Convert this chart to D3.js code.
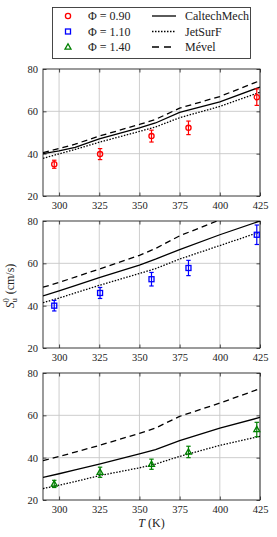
<!DOCTYPE html>
<html><head><meta charset="utf-8">
<script src="https://cdn.jsdelivr.net/npm/d3@7"></script>
<style>body{margin:0;background:#fff}svg{display:block}text{font-family:"Liberation Serif","DejaVu Serif",serif;fill:#222}</style>
</head><body><svg id="c" width="277" height="537"></svg>
<script>
const xTicks = [300, 325, 350, 375, 400, 425];
const yTicks = [20, 40, 60, 80];
const modelT = [290, 300, 310, 325, 350, 360, 375, 400, 425];
const expT = [297, 325.5, 357.5, 380.5, 423];
const phiLabels = ["Φ = 0.90", "Φ = 1.10", "Φ = 1.40"];
const mechNames = ["CaltechMech", "JetSurF", "Mével"];

const caltech09 = [40.0, 41.3, 43.0, 47.0, 52.2, 54.5, 59.5, 64.5, 71.5];
const jetsurf09 = [37.8, 39.9, 42.0, 45.4, 50.5, 52.6, 57.0, 62.3, 69.0];
const mevel09   = [40.5, 42.4, 44.5, 48.3, 53.8, 56.2, 61.5, 67.0, 74.5];
const exp09 = [35.0, 39.8, 48.3, 52.2, 66.7];
const err09 = [1.9, 2.6, 2.8, 3.2, 3.9];

const caltech11 = [44.6, 47.0, 49.5, 53.3, 59.2, 62.0, 66.5, 73.5, 80.0];
const jetsurf11 = [41.4, 43.6, 46.0, 49.6, 55.2, 57.5, 62.0, 68.4, 74.8];
const mevel11   = [48.7, 51.0, 53.5, 57.3, 63.8, 67.0, 73.0, 80.5, 88.0];
const exp11 = [40.0, 46.0, 52.5, 57.8, 73.5];
const err11 = [2.5, 2.6, 3.2, 3.6, 4.6];

const caltech14 = [30.7, 32.4, 34.2, 37.0, 41.8, 43.8, 48.0, 54.0, 59.0];
const jetsurf14 = [25.4, 27.0, 28.7, 31.5, 35.2, 37.0, 40.6, 45.8, 50.1];
const mevel14   = [38.6, 40.6, 42.6, 45.8, 51.5, 54.0, 59.5, 65.8, 72.6];
const exp14 = [27.6, 33.1, 36.9, 42.7, 53.3];
const err14 = [1.7, 2.4, 2.4, 2.7, 3.4];

const colors = ["#ff0000", "#0000ff", "#008000"];
const dashes = [null, "1.5,1.5", "6,4"];

const panels = [
  {top: 69, models: [caltech09, jetsurf09, mevel09], exp: exp09, err: err09, color: colors[0], marker: "circle"},
  {top: 221, models: [caltech11, jetsurf11, mevel11], exp: exp11, err: err11, color: colors[1], marker: "square"},
  {top: 373, models: [caltech14, jetsurf14, mevel14], exp: exp14, err: err14, color: colors[2], marker: "triangle"}
];

const svg = d3.select("#c");
const left = 43, right = 260, ph = 127;
const x = d3.scaleLinear().domain([290, 425]).range([left, right]);

function drawMarker(g, type, cx, cy, color) {
  if (type === "circle") g.append("circle").attr("cx", cx).attr("cy", cy).attr("r", 2.6)
      .attr("fill", "none").attr("stroke", color).attr("stroke-width", 1.3);
  else if (type === "square") g.append("rect").attr("x", cx - 2.5).attr("y", cy - 2.5).attr("width", 5).attr("height", 5)
      .attr("fill", "none").attr("stroke", color).attr("stroke-width", 1.3);
  else g.append("path").attr("d", `M${cx},${cy - 3.2}L${cx + 3},${cy + 2.2}L${cx - 3},${cy + 2.2}Z`)
      .attr("fill", "none").attr("stroke", color).attr("stroke-width", 1.3);
}

panels.forEach((p, i) => {
  const y = d3.scaleLinear().domain([20, 80]).range([p.top + ph, p.top]);
  const g = svg.append("g");
  const clipId = "clip" + i;
  svg.append("clipPath").attr("id", clipId).append("rect")
    .attr("x", left).attr("y", p.top).attr("width", right - left).attr("height", ph);
  g.selectAll(".gx").data(xTicks).join("line").attr("x1", d => x(d)).attr("x2", d => x(d))
    .attr("y1", p.top).attr("y2", p.top + ph).attr("stroke", "#c8c8c8").attr("stroke-width", 0.9);
  g.selectAll(".gy").data(yTicks.slice(1, 3)).join("line").attr("y1", d => y(d)).attr("y2", d => y(d))
    .attr("x1", left).attr("x2", right).attr("stroke", "#c8c8c8").attr("stroke-width", 0.9);
  const axB = g.append("g").attr("transform", `translate(0,${p.top + ph})`)
    .call(d3.axisBottom(x).tickValues(xTicks).tickSize(-3.5).tickPadding(6));
  const axT = g.append("g").attr("transform", `translate(0,${p.top})`)
    .call(d3.axisTop(x).tickValues(xTicks).tickSize(-3.5).tickFormat(""));
  const axL = g.append("g").attr("transform", `translate(${left},0)`)
    .call(d3.axisLeft(y).tickValues(yTicks).tickSize(-3.5).tickPadding(5));
  const axR = g.append("g").attr("transform", `translate(${right},0)`)
    .call(d3.axisRight(y).tickValues(yTicks).tickSize(-3.5).tickFormat(""));
  [axB, axT, axL, axR].forEach(a => {
    a.attr("font-family", null);
    a.select(".domain").remove();
    a.selectAll("line").attr("stroke", "#222").attr("stroke-width", 0.8);
    a.selectAll("text").attr("font-size", 10.5).attr("fill", "#222");
  });
  g.append("rect").attr("x", left).attr("y", p.top).attr("width", right - left).attr("height", ph)
    .attr("fill", "none").attr("stroke", "#222").attr("stroke-width", 0.9);
  const line = d3.line().x((d, k) => x(modelT[k])).y(d => y(d));
  p.models.forEach((m, k) => {
    g.append("path").attr("d", line(m)).attr("clip-path", `url(#${clipId})`)
      .attr("fill", "none").attr("stroke", "#000").attr("stroke-width", 1.3)
      .attr("stroke-dasharray", dashes[k]);
  });
  p.exp.forEach((v, k) => {
    const cx = x(expT[k]);
    const e = p.err[k];
    g.append("line").attr("x1", cx).attr("x2", cx).attr("y1", y(v - e)).attr("y2", y(v + e))
      .attr("stroke", p.color).attr("stroke-width", 1.2);
    [v - e, v + e].forEach(t => g.append("line").attr("x1", cx - 2.2).attr("x2", cx + 2.2)
      .attr("y1", y(t)).attr("y2", y(t)).attr("stroke", p.color).attr("stroke-width", 1.2));
    drawMarker(g, p.marker, cx, y(v), p.color);
  });
});

const yl = svg.append("text").attr("transform", "translate(14,286) rotate(-90)")
  .attr("text-anchor", "middle").attr("font-size", 12);
yl.append("tspan").attr("font-style", "italic").text("S");
yl.append("tspan").attr("font-size", 8).attr("dy", 3).text("u");
yl.append("tspan").attr("font-size", 8).attr("dy", -8).attr("dx", -4).text("0");
yl.append("tspan").attr("dy", 5).attr("dx", 4).text("(cm/s)");

const xl = svg.append("text").attr("x", (left + right) / 2).attr("y", 527)
  .attr("text-anchor", "middle").attr("font-size", 12);
xl.append("tspan").attr("font-style", "italic").text("T");
xl.append("tspan").text(" (K)");

const lg = svg.append("g");
lg.append("rect").attr("x", 52.5).attr("y", 7.5).attr("width", 198).attr("height", 51)
  .attr("fill", "#fff").attr("stroke", "#333").attr("stroke-width", 0.9);
const rowsY = [16, 31.5, 47];
phiLabels.forEach((t, k) => {
  drawMarker(lg, panels[k].marker, 68, rowsY[k], panels[k].color);
  lg.append("text").attr("x", 88).attr("y", rowsY[k] + 4).attr("font-size", 12).text(t);
});
mechNames.forEach((t, k) => {
  lg.append("line").attr("x1", 152).attr("x2", 176).attr("y1", rowsY[k]).attr("y2", rowsY[k])
    .attr("stroke", "#000").attr("stroke-width", 1.3).attr("stroke-dasharray", k === 2 ? "7,5" : dashes[k]);
  lg.append("text").attr("x", 185).attr("y", rowsY[k] + 4).attr("font-size", 12).text(t);
});
</script></body></html>
